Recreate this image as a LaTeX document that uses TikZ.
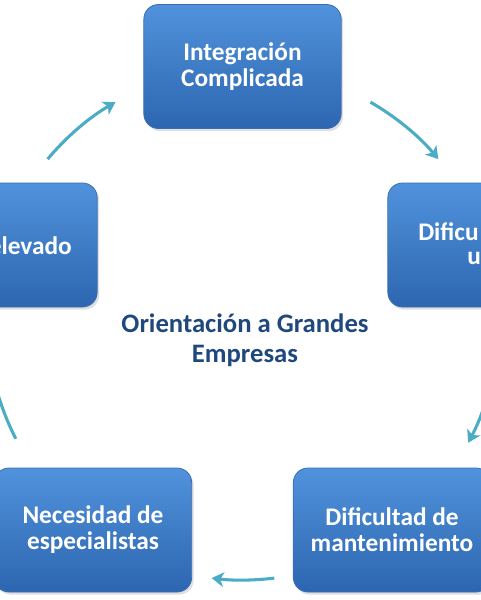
\documentclass[tikz,border=0pt]{standalone}
\usepackage{fontspec}
\setmainfont{Carlito}
\usetikzlibrary{arrows.meta,shadows}
\definecolor{boxtop}{HTML}{5192DC}
\definecolor{boxbot}{HTML}{2D66B0}
\definecolor{boxline}{HTML}{3A6EB3}
\definecolor{arrowteal}{HTML}{4BACC6}
\definecolor{titleblue}{HTML}{1F497D}
\begin{document}
\begin{tikzpicture}[x=0.75pt,y=-0.75pt,
  cyclebox/.style={draw=boxline,line width=0.6pt,rounded corners=11pt,top color=boxtop,bottom color=boxbot,
    minimum width=148pt,minimum height=93pt,drop shadow={opacity=0.25,shadow xshift=1.5pt,shadow yshift=-2pt},
    text=white,font=\bfseries\fontsize{19}{19.5}\selectfont,align=center,inner sep=0pt},
  boxtext/.style={text=white,font=\bfseries\fontsize{19}{19.5}\selectfont,inner sep=0pt},
  cyclearrow/.style={draw=arrowteal,line width=2.3pt,-{Stealth[length=9pt,width=11pt,inset=2.5pt]}}]
\useasboundingbox (0,0) rectangle (480,600);
\fill[white] (0,0) rectangle (480,600);
% boxes
\node[cyclebox] (integ) at (242.5,66.5) {Integración\\Complicada};
\node[cyclebox] (dificuso) at (486.5,245) {};
\node[cyclebox] (mant) at (392,530) {Dificultad de\\mantenimiento};
\node[cyclebox] (espec) at (93,530) {Necesidad de\\especialistas};
\node[cyclebox] (elev) at (-1.5,245) {};
\node[boxtext,anchor=east] (elevtxt) at (72,246) {elevado};
\node[boxtext,anchor=west] (dif1) at (418,232) {Dificu};
\node[boxtext,anchor=west] (dif2) at (467,258) {u};
% centre
\node[font=\bfseries\fontsize{20}{22.5}\selectfont,text=titleblue,align=center] (orient) at (245,340) {Orientación a Grandes\\Empresas};
% arrows
\coordinate (ctr) at (243,323);
\draw[cyclearrow] ([shift={(-140:255)}]ctr) arc[start angle=-140,end angle=-120,radius=255];
\draw[cyclearrow] ([shift={(-60:255)}]ctr) arc[start angle=-60,end angle=-40,radius=255];
\draw[cyclearrow] ([shift={(8:255)}]ctr) arc[start angle=8,end angle=28,radius=255];
\draw[cyclearrow] ([shift={(83:257)}]ctr) arc[start angle=83,end angle=97,radius=257];
\draw[cyclearrow] ([shift={(153:255)}]ctr) arc[start angle=153,end angle=172,radius=255];
\end{tikzpicture}
\end{document}
